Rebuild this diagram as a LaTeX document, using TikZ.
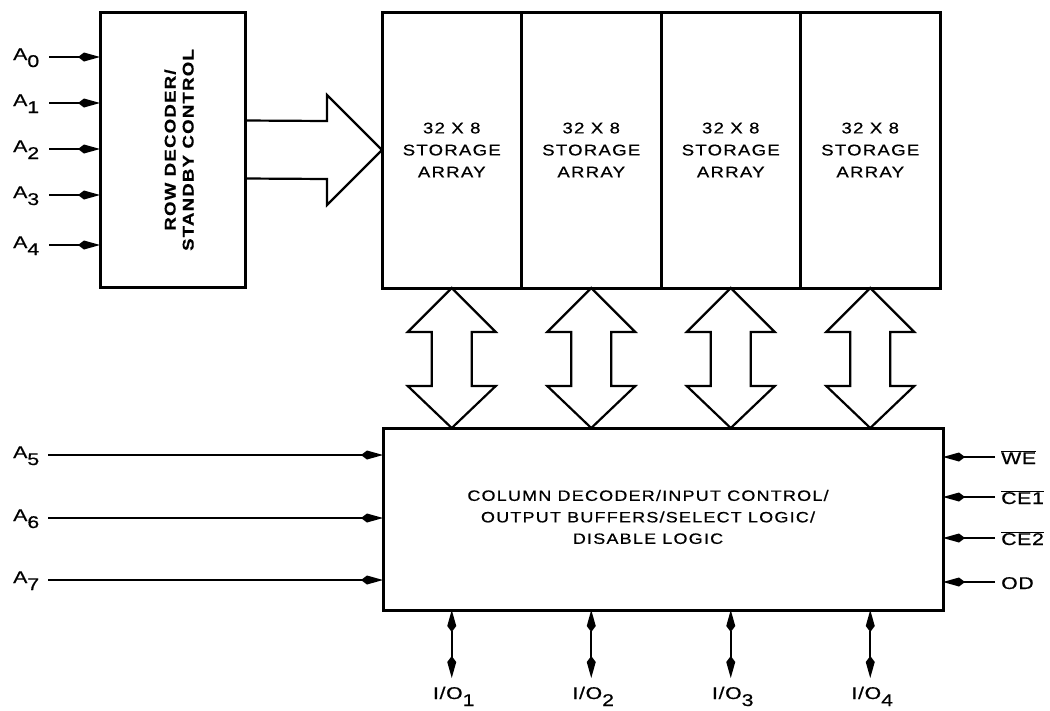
\documentclass[tikz,border=0pt]{standalone}
\usepackage{fontspec}
\setmainfont{Liberation Sans}
\newfontfamily\wfont[FakeStretch=1.2,LetterSpace=8,FakeBold=0.6]{Liberation Sans}
\newfontfamily\lfont[FakeStretch=1.25,LetterSpace=4,FakeBold=0.6]{Liberation Sans}
\usetikzlibrary{arrows.meta,calc}
\newcommand\Sg[2]{#1\raisebox{-7pt}{#2}}
\begin{document}
\begin{tikzpicture}[x=1pt,y=-1pt,
  box/.style={draw, line width=3pt, fill=white, inner sep=0pt, outer sep=0pt},
  fat/.style={draw, line width=2.2pt, line join=miter},
  sig/.style={line width=2.6pt, -{Kite[length=22pt,width=9pt,inset=6pt]}},
  sigthin/.style={line width=2.2pt, -{Kite[length=22pt,width=9pt,inset=6pt]}},
  io/.style={line width=1.8pt, {Kite[length=22pt,width=9pt,inset=6pt]}-{Kite[length=22pt,width=9pt,inset=6pt]}},
  lbl/.style={font=\lfont\fontsize{17}{19}\selectfont, inner sep=0pt},
  txt/.style={font=\wfont\fontsize{15.5}{22}\selectfont, align=center},
]
\useasboundingbox (0,0) rectangle (1050,710);

% row decoder
\node[box, minimum width=145, minimum height=275] (rowdec) at (172.5,149.5) {};
\node[rotate=90, align=center, font=\wfont\bfseries\fontsize{15.5}{18}\selectfont] (rowtxt) at (179,150) {ROW DECODER/\\STANDBY CONTROL};

% storage arrays
\foreach \i/\x in {1/451.75,2/591.25,3/730.75,4/870.25}
  \node[box, txt, minimum width=139.5, minimum height=276] (arr\i) at (\x,150) {32 X 8\\STORAGE\\ARRAY};

% control block
\node[box, minimum width=560, minimum height=182] (ctrl) at (663,519) {};
\node[txt, font=\wfont\fontsize{15}{21.5}\selectfont] (ctrltxt) at (648,517) {COLUMN DECODER/INPUT CONTROL/\\OUTPUT BUFFERS/SELECT LOGIC/\\DISABLE LOGIC};

% big arrow row decoder -> arrays
\draw[fat] ($(rowdec.east)+(0,-29)$) -- ($(arr1.west)+(-55,-29)$) -- ($(arr1.west)+(-55,-55)$)
  -- (arr1.west) -- ($(arr1.west)+(-55,55)$) -- ($(arr1.west)+(-55,29)$) -- ($(rowdec.east)+(0,29)$);

% double arrows arrays <-> control
\foreach \i in {1,...,4}
  \draw[fat] (arr\i.south) -- ++(44,44) -- ++(-24,0) -- ++(0,54) -- ++(24,0)
    -- (ctrl.north -| arr\i.south) -- ++(-44,-42) -- ++(24,0) -- ++(0,-54) -- ++(-24,0) -- cycle;

% A0..A4
\foreach \i/\y in {0/57,1/103,2/149,3/195,4/245} {
  \coordinate (as\i) at (49,\y);
  \draw[sig] (as\i) -- (as\i -| rowdec.west);
  \node[lbl, anchor=base west] (la\i) at (13,\y+3) {\Sg{A}{\i}};
}
% A5..A7
\foreach \i/\y in {5/455,6/518,7/580} {
  \coordinate (as\i) at (48,\y);
  \draw[sigthin] (as\i) -- (as\i -| ctrl.west);
  \node[lbl, anchor=base west] (la\i) at (13,\y+3) {\Sg{A}{\i}};
}
% right-side controls
\foreach \n/\y/\t in {we/457/{$\overline{\mbox{\lfont WE}}$},ce1/497/{$\overline{\mbox{\lfont CE1}}$},ce2/538/{$\overline{\mbox{\lfont CE2}}$},od/582/{OD}} {
  \coordinate (c\n) at (995,\y);
  \draw[sigthin] (c\n) -- (c\n -| ctrl.east);
  \node[lbl, anchor=base west] (l\n) at (1001,\y+7) {\t};
}
% I/O lines
\foreach \i in {1,...,4} {
  \path (arr\i.south) ++(0,390) coordinate (io\i);
  \draw[io] (io\i |- ctrl.south) -- (io\i);
  \node[lbl, anchor=base] (lio\i) at ($(io\i)+(2,21)$) {\Sg{I/O}{\i}};
}
\end{tikzpicture}
\end{document}
